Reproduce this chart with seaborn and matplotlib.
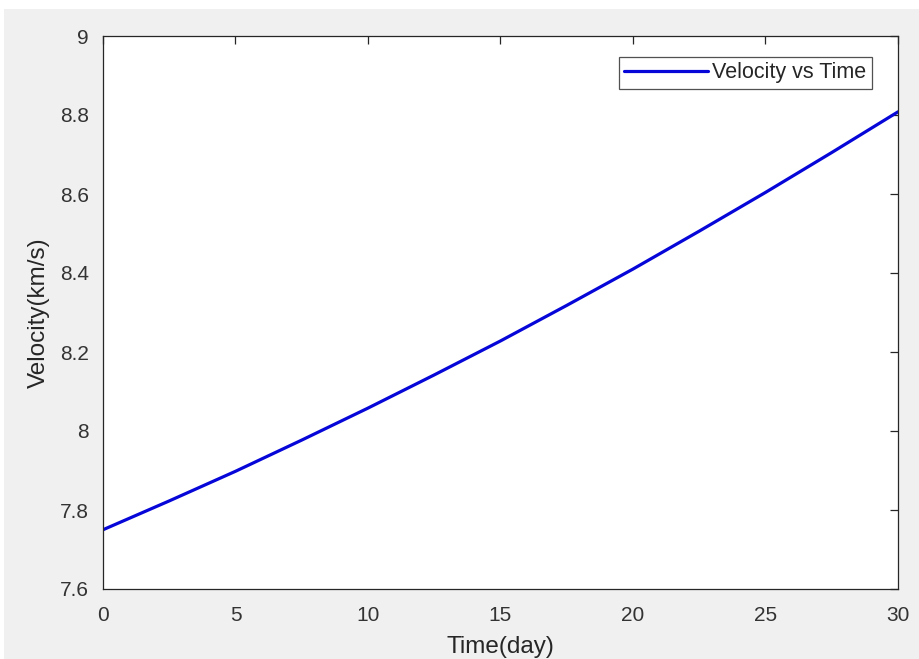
import matplotlib
matplotlib.use("Agg")
import matplotlib.pyplot as plt
import matplotlib.patches as mpatches
import numpy as np
import pandas as pd
import seaborn as sns

# values
time_day = [0, 2.5, 5, 7.5, 10, 12.5, 15, 17.5, 20, 22.5, 25, 27.5, 30]
velocity_kms = [7.750, 7.823, 7.898, 7.977, 8.058, 8.142, 8.228,
                8.318, 8.410, 8.506, 8.604, 8.705, 8.808]
x_ticks = [0, 5, 10, 15, 20, 25, 30]
y_ticks = [7.6, 7.8, 8.0, 8.2, 8.4, 8.6, 8.8, 9.0]
y_tick_labels = ["7.6", "7.8", "8", "8.2", "8.4", "8.6", "8.8", "9"]

df = pd.DataFrame({"Time": time_day, "Velocity": velocity_kms})

sns.set_style("white")
plt.rcParams["font.family"] = ["Liberation Sans", "DejaVu Sans"]

fig = plt.figure(figsize=(9.2, 6.59), dpi=100)
fig.patch.set_facecolor("white")
# MATLAB-style grey figure area (top strip is a white page margin)
fig.patches.append(mpatches.Rectangle((4 / 920, 0), 1, (659 - 9) / 659,
                                      transform=fig.transFigure,
                                      facecolor="#f0f0f0", edgecolor="none",
                                      zorder=-10))

ax = fig.add_axes([103 / 920, (659 - 589) / 659, (898 - 103) / 920, (589 - 36) / 659])
ax.set_facecolor("white")

sns.lineplot(data=df, x="Time", y="Velocity", ax=ax, color="#0606d8",
             linewidth=2.3, label="Velocity vs Time")

ax.set_xlim(0, 30)
ax.set_ylim(7.6, 9.0)
ax.set_xticks(x_ticks)
ax.set_yticks(y_ticks)
ax.set_yticklabels(y_tick_labels)

for side in ["left", "right", "top", "bottom"]:
    ax.spines[side].set_visible(True)
    ax.spines[side].set_color("#262626")
    ax.spines[side].set_linewidth(0.9)

ax.tick_params(axis="both", direction="in", length=6, width=0.9,
               colors="#262626", labelsize=15, top=True, right=True,
               labeltop=False, labelright=False)
ax.tick_params(axis="x", pad=12, labelcolor="#333333")
ax.tick_params(axis="y", pad=10, labelcolor="#333333")

ax.set_xlabel("Time(day)", fontsize=17.5, color="#262626", labelpad=8)
ax.set_ylabel("Velocity(km/s)", fontsize=17.5, color="#262626", labelpad=7)

leg = ax.legend(loc="upper right", bbox_to_anchor=(872 / 920, (659 - 57) / 659),
                bbox_transform=fig.transFigure, fontsize=15.5, frameon=True,
                fancybox=False, handlelength=3.9, handletextpad=0.2,
                borderpad=0.25, borderaxespad=0)
leg.get_frame().set_edgecolor("#262626")
leg.get_frame().set_linewidth(0.9)
for t in leg.get_texts():
    t.set_color("#262626")

fig.savefig("out.png", dpi=100)
